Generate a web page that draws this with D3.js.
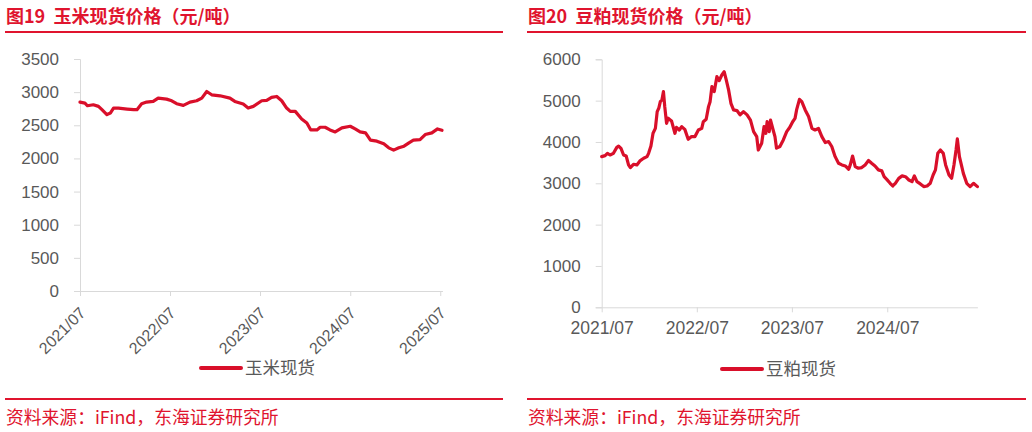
<!DOCTYPE html>
<html><head><meta charset="utf-8">
<script src="https://cdn.jsdelivr.net/npm/d3@7/dist/d3.min.js"></script>
<style>
html,body{margin:0;padding:0;background:#fff;}
svg{display:block;}
</style></head>
<body>
<svg id="c" width="1032" height="432"></svg>
<script>
// ---------- DATA ----------
const cornDates = ["2021-07-01","2021-07-21","2021-07-31","2021-08-24","2021-09-14","2021-09-28","2021-10-18","2021-11-01","2021-11-14","2021-12-04","2022-01-08","2022-02-04","2022-02-17","2022-03-08","2022-03-28","2022-04-24","2022-05-14","2022-06-17","2022-07-08","2022-07-28","2022-08-24","2022-09-20","2022-10-17","2022-11-07","2022-11-27","2022-12-17","2023-01-20","2023-03-01","2023-03-21","2023-04-24","2023-05-14","2023-06-04","2023-07-08","2023-07-28","2023-08-17","2023-09-07","2023-09-27","2023-10-17","2023-11-01","2023-11-21","2023-12-17","2024-01-07","2024-01-23","2024-02-17","2024-03-01","2024-03-21","2024-04-10","2024-05-01","2024-05-28","2024-07-01","2024-07-21","2024-08-10","2024-09-01","2024-09-21","2024-10-17","2024-11-14","2024-12-04","2024-12-24","2025-01-14","2025-02-04","2025-02-24","2025-03-14","2025-04-10","2025-05-01","2025-05-28","2025-06-20","2025-07-08"];
const cornValues = [2850,2835,2795,2810,2785,2735,2660,2685,2760,2760,2745,2735,2735,2825,2850,2860,2910,2895,2870,2825,2800,2850,2870,2910,3010,2960,2945,2910,2860,2820,2760,2785,2870,2875,2920,2935,2870,2760,2710,2710,2595,2535,2430,2430,2470,2470,2430,2400,2460,2485,2445,2400,2385,2275,2260,2220,2160,2125,2160,2185,2235,2275,2285,2360,2385,2445,2425];

const soyDates = ["2021-07-01","2021-07-14","2021-07-23","2021-08-02","2021-08-15","2021-08-28","2021-09-04","2021-09-13","2021-09-23","2021-10-03","2021-10-12","2021-10-19","2021-10-31","2021-11-13","2021-11-26","2021-12-09","2021-12-22","2021-12-28","2022-01-06","2022-01-14","2022-01-23","2022-01-30","2022-02-05","2022-02-11","2022-02-17","2022-02-23","2022-02-28","2022-03-07","2022-03-13","2022-03-26","2022-04-08","2022-04-14","2022-04-25","2022-05-04","2022-05-16","2022-05-29","2022-06-11","2022-06-24","2022-07-07","2022-07-20","2022-07-26","2022-08-06","2022-08-15","2022-08-21","2022-08-28","2022-09-06","2022-09-16","2022-09-25","2022-10-05","2022-10-14","2022-10-22","2022-10-31","2022-11-09","2022-11-19","2022-12-02","2022-12-14","2022-12-27","2023-01-10","2023-01-23","2023-02-04","2023-02-16","2023-02-22","2023-03-07","2023-03-16","2023-03-23","2023-03-28","2023-04-05","2023-04-10","2023-04-20","2023-04-27","2023-05-03","2023-05-16","2023-05-29","2023-06-11","2023-06-23","2023-07-04","2023-07-13","2023-07-19","2023-07-30","2023-08-08","2023-08-21","2023-09-03","2023-09-16","2023-09-28","2023-10-11","2023-10-24","2023-11-06","2023-11-19","2023-12-01","2023-12-14","2023-12-27","2024-01-09","2024-01-22","2024-02-04","2024-02-10","2024-02-19","2024-02-29","2024-03-12","2024-03-25","2024-04-07","2024-04-20","2024-05-02","2024-05-15","2024-05-28","2024-06-10","2024-06-19","2024-06-29","2024-07-12","2024-07-22","2024-08-01","2024-08-14","2024-08-27","2024-09-09","2024-09-22","2024-10-04","2024-10-13","2024-10-23","2024-11-05","2024-11-18","2024-12-01","2024-12-13","2024-12-24","2025-01-02","2025-01-11","2025-01-21","2025-02-01","2025-02-10","2025-02-23","2025-03-05","2025-03-14","2025-03-22","2025-03-27","2025-04-04","2025-04-13","2025-04-19","2025-05-02","2025-05-15","2025-05-28","2025-06-12"];
const soyValues = [3645,3670,3725,3685,3725,3870,3900,3845,3685,3660,3445,3380,3460,3445,3550,3605,3645,3725,3900,4210,4330,4735,4815,4975,5015,5220,4855,4450,4575,4510,4210,4355,4290,4370,4305,4065,4130,4130,4290,4330,4490,4550,4855,4975,5340,5220,5580,5485,5620,5700,5500,5260,4935,4775,4760,4655,4735,4655,4530,4250,4130,3805,3970,4370,4210,4490,4250,4530,4290,4130,3850,3890,4050,4250,4355,4490,4570,4775,5030,4975,4775,4615,4330,4290,4330,4130,3985,4010,3890,3645,3485,3445,3420,3340,3445,3660,3405,3365,3380,3445,3550,3485,3420,3325,3300,3160,3095,3000,2935,3000,3120,3180,3160,3080,3040,3180,3040,2985,2920,2935,3000,3200,3325,3725,3805,3725,3445,3200,3120,3445,3805,4075,3645,3405,3240,3000,2920,3000,2920,2905];

const cornTicks = [0,500,1000,1500,2000,2500,3000,3500];
const soyTicks = [0,1000,2000,3000,4000,5000,6000];
const cornXTicks = ["2021-07-01","2022-07-01","2023-07-01","2024-07-01","2025-07-01"];
const soyXTicks = ["2021-07-01","2022-07-01","2023-07-01","2024-07-01"];

const titles = ["图19  玉米现货价格（元/吨）","图20  豆粕现货价格（元/吨）"];
const seriesNames = ["玉米现货","豆粕现货"];
const sourceText = "资料来源：iFind，东海证券研究所";

// ---------- STYLE ----------
const RED = "#E0142E";
const LINE = "#D90F2A";
const GREY = "#595959";
const AX = "#D9D9D9";
const FONT = "'Liberation Sans', Arial, 'Noto Sans CJK SC', sans-serif";
const CJK = "'Noto Sans CJK SC', 'Liberation Sans', sans-serif";

const svg = d3.select("#c");
const parse = d3.timeParse("%Y-%m-%d");
const fmt = d3.timeFormat("%Y/%m");

function panel(o){
  const g = svg.append("g");
  // title
  g.append("text").attr("x", o.px + 1).attr("y", 23).style("white-space", "pre")
    .attr("font-family", CJK).attr("font-weight", "bold").attr("font-size", 18)
    .attr("fill", RED).text(o.title);
  g.append("line").attr("x1", o.px).attr("x2", o.px + o.pw).attr("y1", 32).attr("y2", 32)
    .attr("stroke", RED).attr("stroke-width", 2);
  g.append("line").attr("x1", o.px).attr("x2", o.px + o.pw).attr("y1", 399).attr("y2", 399)
    .attr("stroke", RED).attr("stroke-width", 2);
  g.append("text").attr("x", o.px + 1).attr("y", 424)
    .attr("font-family", CJK).attr("font-size", 17.8).attr("fill", RED).text(sourceText);

  const t0 = parse(o.xTicks[0]), t1 = parse(o.xTicks[1]);
  const tEnd = parse(o.xEnd);
  const x = d3.scaleTime().domain([t0, tEnd])
    .range([o.x0, o.x0 + (tEnd - t0) / (t1 - t0) * o.yearW]);
  const y = d3.scaleLinear().domain([0, o.yMax]).range([o.yBottom, o.yTop]);

  // y axis
  const ya = g.append("g").attr("transform", `translate(${o.x0},0)`)
    .call(d3.axisLeft(y).tickValues(o.yTicks).tickSize(6).tickPadding(15).tickFormat(d3.format("d")));
  ya.select(".domain").attr("stroke", AX);
  ya.selectAll(".tick line").attr("stroke", AX);
  ya.selectAll("text").attr("font-family", FONT).attr("font-size", 17).attr("fill", GREY);

  // x axis
  const xa = g.append("g").attr("transform", `translate(0,${o.yBottom})`)
    .call(d3.axisBottom(x).tickValues(o.xTicks.map(parse)).tickSize(5).tickSizeOuter(0).tickFormat(fmt));
  xa.select(".domain").attr("stroke", AX);
  xa.selectAll(".tick line").attr("stroke", AX);
  xa.selectAll("text").attr("font-family", FONT).attr("fill", GREY);
  if (o.rotate) {
    xa.selectAll("text").attr("font-size", 16).attr("text-anchor", "end")
      .attr("transform", "rotate(-45)").attr("dx", 0).attr("dy", 0).attr("y", 20.5).attr("x", -12);
  } else {
    xa.selectAll("text").attr("font-size", 17.5).attr("dy", "0.75em").attr("y", 14);
  }

  // line
  const data = o.dates.map((d, i) => ({d: parse(d), v: o.values[i]}));
  g.append("path").datum(data)
    .attr("fill", "none").attr("stroke", LINE).attr("stroke-width", 3.2)
    .attr("stroke-linejoin", "round").attr("stroke-linecap", "round")
    .attr("d", d3.line().x(p => x(p.d)).y(p => y(p.v)));

  // legend
  g.append("line").attr("x1", o.lx).attr("x2", o.lx + 40).attr("y1", o.ly).attr("y2", o.ly)
    .attr("stroke", LINE).attr("stroke-width", 4).attr("stroke-linecap", "round");
  g.append("text").attr("x", o.lx + 44).attr("y", o.ly).attr("dy", "0.35em")
    .attr("font-family", CJK).attr("font-size", 17.5).attr("fill", GREY).text(o.name);
}

panel({title: titles[0], name: seriesNames[0], px: 5, pw: 498,
  x0: 80, yearW: 90, xTicks: cornXTicks, xEnd: "2025-07-10",
  yTop: 59, yBottom: 291, yMax: 3500, yTicks: cornTicks,
  dates: cornDates, values: cornValues, rotate: true, lx: 201, ly: 368});

panel({title: titles[1], name: seriesNames[1], px: 527, pw: 499,
  x0: 601.7, yearW: 95.1, xTicks: soyXTicks, xEnd: "2025-06-12",
  yTop: 59.3, yBottom: 307.3, yMax: 6000, yTicks: soyTicks,
  dates: soyDates, values: soyValues, rotate: false, lx: 722, ly: 369});
</script>
</body></html>
